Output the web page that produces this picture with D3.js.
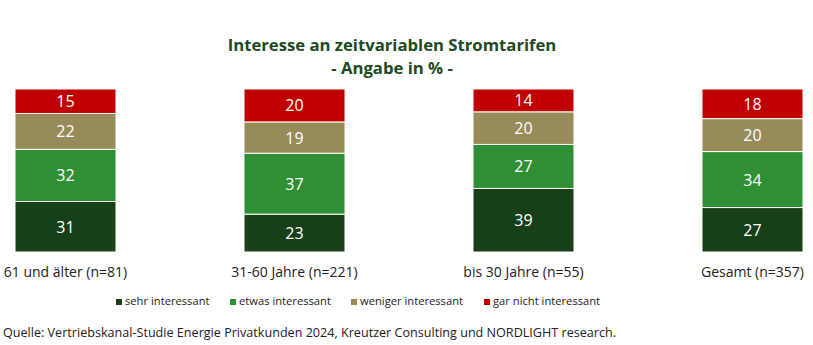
<!DOCTYPE html>
<html>
<head>
<meta charset="utf-8">
<script src="https://cdn.jsdelivr.net/npm/d3@7"></script>
<style>
  body { margin: 0; background: #fff; }
  text { font-family: "Open Sans", sans-serif; }
</style>
</head>
<body>
<div id="chart"></div>
<script>
var categories = ["61 und älter (n=81)", "31-60 Jahre (n=221)", "bis 30 Jahre (n=55)", "Gesamt (n=357)"];
var seriesNames = ["sehr interessant", "etwas interessant", "weniger interessant", "gar nicht interessant"];
var seriesColors = ["#173f18", "#2f8f34", "#978b5a", "#c00000"];
var sehr = [31, 23, 39, 27];
var etwas = [32, 37, 27, 34];
var weniger = [22, 19, 20, 20];
var garNicht = [15, 20, 14, 18];

var width = 813, height = 345;
var rows = categories.map(function (c, i) {
	return { cat: c, s0: sehr[i], s1: etwas[i], s2: weniger[i], s3: garNicht[i] };
});
var keys = ["s0", "s1", "s2", "s3"];

var svg = d3.select("#chart").append("svg")
	.attr("width", width)
	.attr("height", height);

var x = d3.scalePoint().domain(categories).range([65.5, 752.5]);
var barW = 101;
var y = d3.scaleLinear().domain([0, 1]).range([252, 89]);

var stacked = d3.stack().keys(keys).offset(d3.stackOffsetExpand)(rows);

// title
svg.append("text").attr("x", 392).attr("y", 51).attr("text-anchor", "middle")
	.attr("font-size", 16.7).attr("font-weight", "bold").attr("fill", "#1d4a1f")
	.text("Interesse an zeitvariablen Stromtarifen");
svg.append("text").attr("x", 392).attr("y", 74).attr("text-anchor", "middle")
	.attr("font-size", 16.7).attr("font-weight", "bold").attr("fill", "#1d4a1f")
	.text("- Angabe in % -");

var groups = svg.append("g").selectAll("g")
	.data(stacked)
	.enter().append("g")
	.attr("fill", function (d, i) { return seriesColors[i]; });

groups.selectAll("rect")
	.data(function (d) { return d; })
	.enter().append("rect")
	.attr("x", function (d) { return x(d.data.cat) - barW / 2; })
	.attr("y", function (d) { return y(d[1]); })
	.attr("width", barW)
	.attr("height", function (d) { return y(d[0]) - y(d[1]); })
	.attr("stroke", "#fff")
	.attr("stroke-width", 1);

groups.each(function (layer) {
	d3.select(this).selectAll("text.val")
		.data(layer)
		.enter().append("text")
		.attr("class", "val")
		.attr("x", function (d) { return x(d.data.cat); })
		.attr("y", function (d) { return (y(d[0]) + y(d[1])) / 2 + 6; })
		.attr("text-anchor", "middle")
		.attr("font-size", 16)
		.attr("fill", "#fff")
		.text(function (d) { return d.data[layer.key]; });
});

// category labels
svg.append("g").selectAll("text")
	.data(categories)
	.enter().append("text")
	.attr("x", function (d) { return x(d); })
	.attr("y", 277)
	.attr("text-anchor", "middle")
	.attr("font-size", 14)
	.attr("fill", "#222")
	.text(function (d) { return d; });

// legend
var legendX = [116, 230, 351, 484];
var legend = svg.append("g").selectAll("g")
	.data(seriesNames)
	.enter().append("g")
	.attr("transform", function (d, i) { return "translate(" + legendX[i] + ",305)"; });
legend.append("rect")
	.attr("x", 0).attr("y", -6).attr("width", 6).attr("height", 6)
	.attr("fill", function (d, i) { return seriesColors[i]; });
legend.append("text")
	.attr("x", 9).attr("y", 0)
	.attr("font-size", 11.2)
	.attr("fill", "#222")
	.text(function (d) { return d; });

// source
svg.append("text").attr("x", 3).attr("y", 337)
	.attr("font-size", 12.6).attr("fill", "#222")
	.text("Quelle: Vertriebskanal-Studie Energie Privatkunden 2024, Kreutzer Consulting und NORDLIGHT research.");
</script>
</body>
</html>
